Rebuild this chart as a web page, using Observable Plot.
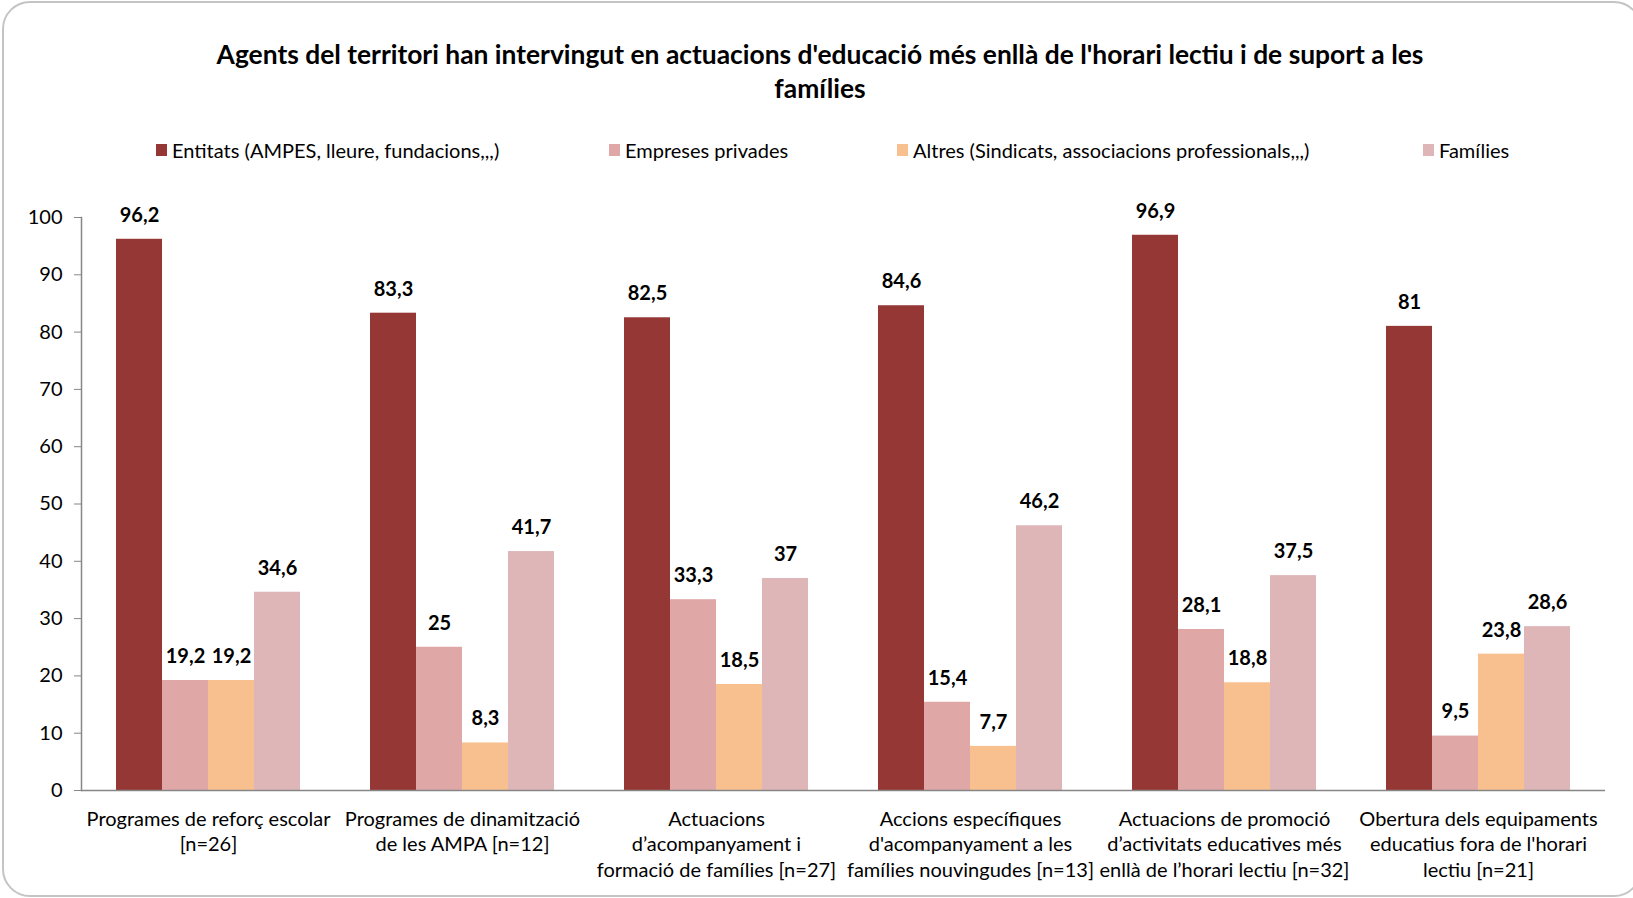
<!DOCTYPE html>
<html><head><meta charset="utf-8">
<script src="https://cdn.jsdelivr.net/npm/d3@7"></script>
<script src="https://cdn.jsdelivr.net/npm/@observablehq/plot@0.6"></script>
<style>
body{margin:0;background:#fff;font-family:Lato,sans-serif;}
#wrap{position:relative;width:1633px;height:898px;overflow:hidden;background:#fff;}
#border{position:absolute;left:2px;top:1px;width:1640px;height:896px;border:2px solid #c4c4c4;border-radius:28px;box-sizing:border-box;}
#title{position:absolute;top:37px;left:0;width:1640px;text-align:center;font-weight:bold;font-size:26.4px;line-height:34px;color:#000;}
.leg{position:absolute;top:140px;font-size:20px;line-height:20px;display:flex;align-items:center;color:#000;white-space:nowrap;}
.sw{width:11px;height:12px;margin-right:5px;}
#chart{position:absolute;left:0;top:190px;}
</style></head>
<body>
<div id="wrap">
<div id="border"></div>
<div id="title">Agents del territori han intervingut en actuacions d'educació més enllà de l'horari lectiu i de suport a les<br>famílies</div>
<div id="legend"></div>
<div id="chart"></div>
</div>
<script>
const categories = [
  "Programes de reforç escolar\n[n=26]",
  "Programes de dinamització\nde les AMPA [n=12]",
  "Actuacions\nd’acompanyament i\nformació de famílies [n=27]",
  "Accions específiques\nd'acompanyament a les\nfamílies nouvingudes [n=13]",
  "Actuacions de promoció\nd’activitats educatives més\nenllà de l’horari lectiu [n=32]",
  "Obertura dels equipaments\neducatius fora de l'horari\nlectiu [n=21]"
];
const series = [
  "Entitats (AMPES, lleure, fundacions,,,)",
  "Empreses privades",
  "Altres (Sindicats, associacions professionals,,,)",
  "Famílies"
];
const entitats = [96.2, 83.3, 82.5, 84.6, 96.9, 81];
const empreses = [19.2, 25, 33.3, 15.4, 28.1, 9.5];
const altres   = [19.2, 8.3, 18.5, 7.7, 18.8, 23.8];
const families = [34.6, 41.7, 37, 46.2, 37.5, 28.6];
const yTicks = [0, 10, 20, 30, 40, 50, 60, 70, 80, 90, 100];
const colors = ["#953735", "#E0A7A7", "#F9C08F", "#DFB6B7"];
const legendX = [156, 609, 897, 1423];

const seriesValues = [entitats, empreses, altres, families];
const rows = categories.flatMap((c, i) => series.map((s, j) => ({category: c, series: s, value: seriesValues[j][i]})));
const fmt = v => String(v).replace(".", ",");

// legend
const leg = document.getElementById("legend");
series.forEach((s, j) => {
  const d = document.createElement("div");
  d.className = "leg";
  d.style.left = legendX[j] + "px";
  d.innerHTML = `<span class="sw" style="background:${colors[j]}"></span><span>${s}</span>`;
  leg.appendChild(d);
});

const chart = Plot.plot({
  width: 1633,
  height: 708,
  marginTop: 27,
  marginBottom: 108,
  marginLeft: 79,
  marginRight: 26,
  style: {fontFamily: "Lato, sans-serif", fontSize: "20px", color: "#000", background: "transparent", overflow: "visible"},
  fx: {domain: categories, padding: 0, label: null},
  x: {domain: series, paddingInner: 0, paddingOuter: 0.748, axis: null},
  y: {domain: [0, 100], label: null},
  color: {domain: series, range: colors},
  marks: [
    Plot.barY(rows, {fx: "category", x: "series", y: "value", fill: "series"}),
    Plot.text(rows, {fx: "category", x: "series", y: "value", text: d => fmt(d.value), dy: -24, fontWeight: "bold", fontSize: 20, fill: "#000"}),
    Plot.ruleY([0], {stroke: "#868686", strokeWidth: 1.5}),
    Plot.frame({anchor: "left", facetAnchor: "left", stroke: "#868686", strokeWidth: 1.5}),
    Plot.axisY({ticks: yTicks, tickSize: 7, tickPadding: 12, stroke: "#868686", fill: "#000", label: null, fontSize: 20}),
    Plot.axisFx({anchor: "bottom", tickSize: 0, tickPadding: 17, label: null, fontSize: 20, lineHeight: 1.275, fill: "#000"})
  ]
});
document.getElementById("chart").appendChild(chart);
</script>
</body></html>
